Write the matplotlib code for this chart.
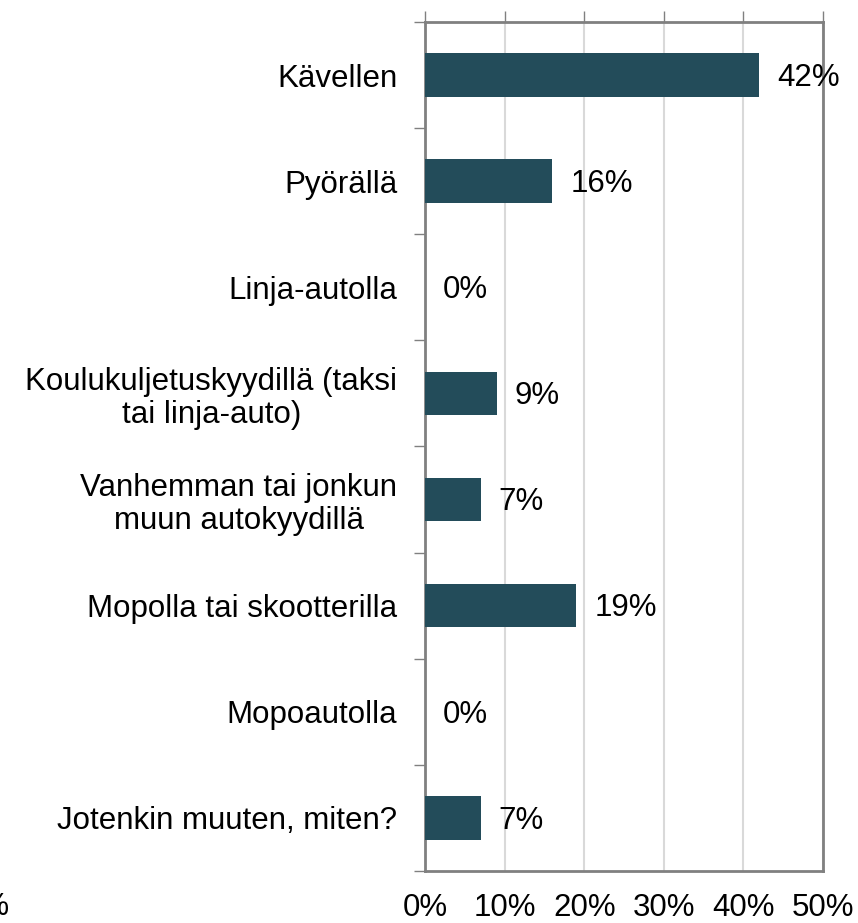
import matplotlib
matplotlib.use("Agg")
import matplotlib.pyplot as plt
from matplotlib.ticker import FixedLocator

plt.rcParams['font.family'] = ['Liberation Sans', 'DejaVu Sans']

categories = ["Kävellen", "Pyörällä", "Linja-autolla",
              "Koulukuljetuskyydillä (taksi\ntai linja-auto)",
              "Vanhemman tai jonkun\nmuun autokyydillä",
              "Mopolla tai skootterilla", "Mopoautolla",
              "Jotenkin muuten, miten?"]
values = [42, 16, 0, 9, 7, 19, 0, 7]
xticks = [0, 10, 20, 30, 40, 50]
xticklabels = ["0%", "10%", "20%", "30%", "40%", "50%"]

FS = 22.5

fig = plt.figure(figsize=(8.58, 9.23), dpi=100)
ax = fig.add_axes([425/858, 1-871/923, 398/858, 849/923])

n = len(categories)
ypos = list(range(n))
ax.barh(ypos, values, height=0.41, color="#234C5A", zorder=3)
ax.set_xlim(0, 50)
ax.set_ylim(n - 0.5, -0.5)

for y, v in zip(ypos, values):
    ax.annotate(f"{v}%", (v, y), xytext=(13, -2), textcoords="offset points",
                ha="left", va="center", fontsize=FS, color="black", zorder=4,
                annotation_clip=False)

ax.set_xticks(xticks)
ax.set_xticklabels(xticklabels, fontsize=FS)
ax.tick_params(axis="x", bottom=False, top=True, labelbottom=True, labeltop=False,
               length=8, width=1, color="#808080", pad=8)
ax.grid(axis="x", color="#D9D9D9", linewidth=1.5, zorder=0)

ax.set_yticks(ypos)
ax.set_yticklabels(categories, fontsize=FS, linespacing=1.12)
for lab in ax.get_yticklabels():
    lab.set_horizontalalignment("right")
    lab.set_multialignment("center")
ax.yaxis.set_minor_locator(FixedLocator([i - 0.5 for i in range(n + 1)]))
ax.tick_params(axis="y", which="major", length=0, pad=20)
ax.tick_params(axis="y", which="minor", length=8, width=1, color="#808080")

for s in ax.spines.values():
    s.set_color("#808080")
    s.set_linewidth(2)

fig.text(-0.041, 1 - 907/923, "0%", fontsize=FS, ha="left", va="center")

fig.savefig("out.png", dpi=100)
